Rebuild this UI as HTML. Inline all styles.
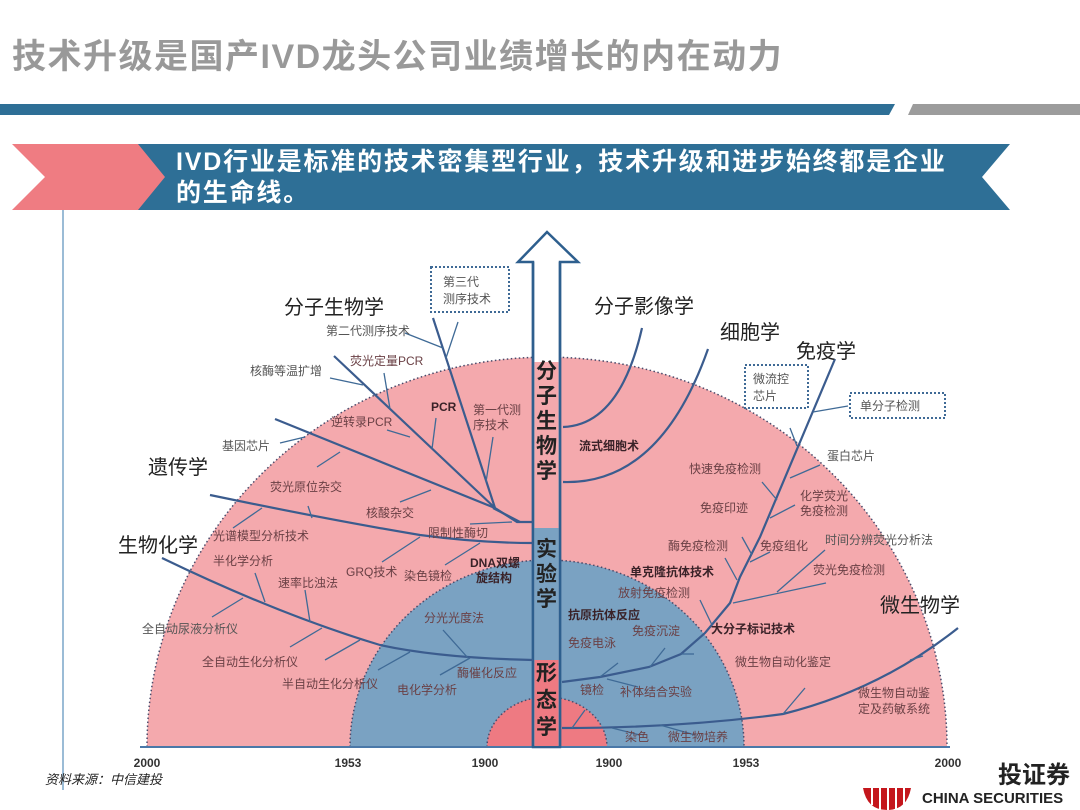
<!DOCTYPE html>
<html><head><meta charset="utf-8"><style>
html,body{margin:0;padding:0;background:#fff;}
body{width:1080px;height:810px;overflow:hidden;position:relative;font-family:"Liberation Sans","Noto Sans CJK SC",sans-serif;}
</style></head><body>
<svg width="1080" height="810" viewBox="0 0 1080 810" xmlns="http://www.w3.org/2000/svg" style="position:absolute;left:0;top:0">
<style>
text{font-family:"Liberation Sans","Noto Sans CJK SC",sans-serif;}
.s{font-size:12px;fill:#6a4045;}
.g{font-size:12px;fill:#555;}
.b{font-size:12px;fill:#3a2228;font-weight:bold;}
.L{font-size:20px;fill:#222;}
.V{font-size:21px;fill:#222;font-weight:bold;}
.ln{stroke:#3b5c8e;stroke-width:2.2;fill:none;}
.tk{stroke:#3f6a96;stroke-width:1.3;fill:none;}
</style>
<text x="12" y="68" style="font-size:34px;font-weight:bold;fill:#999;letter-spacing:1.5px">技术升级是国产IVD龙头公司业绩增长的内在动力</text>
<polygon points="0,104 895,104 889,115 0,115" fill="#2e6f96"/>
<polygon points="913,104 1080,104 1080,115 908,115" fill="#9c9c9c"/>
<polygon points="12,144 165,144 165,210 12,210 45,177" fill="#ef7c82"/>
<polygon points="138,144 1010,144 982,177 1010,210 138,210 165,177" fill="#2e6f96"/>
<text x="176" y="170" style="font-size:25px;font-weight:bold;fill:#fff;letter-spacing:1.8px">IVD行业是标准的技术密集型行业，技术升级和进步始终都是企业</text>
<text x="176" y="201" style="font-size:25px;font-weight:bold;fill:#fff;letter-spacing:1.8px">的生命线。</text>
<line x1="63" y1="210" x2="63" y2="790" stroke="#7aa6c8" stroke-width="1.5"/>
<path d="M147,747 A400,390 0 0 1 947,747 Z" fill="#f4a9ad" stroke="#4a4a6a" stroke-width="1.5" stroke-dasharray="1.5,2.5"/>
<path d="M350,747 A197,187 0 0 1 744,747 Z" fill="#7aa2c2" stroke="#4a4a6a" stroke-width="1.5" stroke-dasharray="1.5,2.5"/>
<path d="M487,747 A60,50 0 0 1 607,747 Z" fill="#ee7a82" stroke="#4a4a6a" stroke-width="1.5" stroke-dasharray="1.5,2.5"/>
<line x1="140" y1="747" x2="950" y2="747" stroke="#4a78a8" stroke-width="2"/>
<polygon points="547,232 578,262 560,262 560,747 533,747 533,262 518,262" fill="#fff" stroke="#2e5f8e" stroke-width="2.5"/>
<rect x="534.5" y="362" width="24" height="166" fill="#f4a9ad"/>
<rect x="534.5" y="528" width="24" height="132" fill="#7aa2c2"/>
<rect x="534.5" y="660" width="24" height="86" fill="#ee7a82"/>
<line x1="533" y1="262" x2="533" y2="747" stroke="#2e5f8e" stroke-width="2.5"/>
<line x1="560" y1="262" x2="560" y2="747" stroke="#2e5f8e" stroke-width="2.5"/>
<text class="V" x="536" y="378">分</text><text class="V" x="536" y="403">子</text><text class="V" x="536" y="428">生</text><text class="V" x="536" y="453">物</text><text class="V" x="536" y="478">学</text>
<text class="V" x="536" y="556">实</text><text class="V" x="536" y="581">验</text><text class="V" x="536" y="606">学</text>
<text class="V" x="536" y="680">形</text><text class="V" x="536" y="707">态</text><text class="V" x="536" y="734">学</text>
<polyline class="ln" points="433,318 495,508 517,522 533,522"/>
<polyline class="ln" points="334,356 495,508"/>
<polyline class="ln" points="275,419 495,508"/>
<path class="ln" d="M210,495 Q330,520 420,535 Q480,543 533,543"/>
<path class="ln" d="M162,558 Q280,615 380,645 Q440,658 533,660"/>
<polyline class="ln" points="493,508 520,522"/>
<g class="tk">
<line x1="446" y1="358" x2="458" y2="322"/><line x1="443" y1="348" x2="405" y2="333"/>
<line x1="390" y1="409" x2="384" y2="373"/><line x1="363" y1="385" x2="330" y2="378"/>
<line x1="410" y1="437" x2="387" y2="430"/><line x1="432" y1="449" x2="436" y2="418"/>
<line x1="486" y1="482" x2="493" y2="437"/><line x1="305" y1="437" x2="280" y2="443"/>
<line x1="340" y1="452" x2="317" y2="467"/><line x1="431" y1="490" x2="400" y2="502"/>
<line x1="512" y1="522" x2="470" y2="524"/><line x1="312" y1="518" x2="308" y2="506"/>
<line x1="262" y1="508" x2="233" y2="528"/><line x1="420" y1="537" x2="382" y2="562"/>
<line x1="480" y1="543" x2="445" y2="565"/><line x1="265" y1="602" x2="255" y2="573"/>
<line x1="243" y1="598" x2="212" y2="617"/><line x1="310" y1="622" x2="305" y2="590"/>
<line x1="322" y1="628" x2="290" y2="647"/><line x1="360" y1="640" x2="325" y2="660"/>
<line x1="410" y1="652" x2="378" y2="670"/><line x1="468" y1="658" x2="443" y2="630"/>
<line x1="470" y1="658" x2="440" y2="675"/>
</g>
<path class="ln" d="M642,328 Q620,425 563,427"/>
<path class="ln" d="M708,349 Q660,485 563,482"/>
<polyline class="ln" points="835,359 760,537 740,577 730,603 705,633 681,654 649,667 600,677 562,682"/>
<path class="ln" d="M958,628 Q880,690 783,714 Q680,728 562,728"/>
<g class="tk">
<line x1="813" y1="412" x2="848" y2="406"/><line x1="797" y1="446" x2="790" y2="428"/>
<line x1="790" y1="478" x2="820" y2="465"/><line x1="777" y1="500" x2="762" y2="482"/>
<line x1="770" y1="518" x2="795" y2="505"/><line x1="752" y1="555" x2="742" y2="537"/>
<line x1="750" y1="562" x2="770" y2="552"/><line x1="737" y1="580" x2="725" y2="558"/>
<line x1="733" y1="603" x2="826" y2="583"/><line x1="777" y1="592" x2="825" y2="550"/>
<line x1="712" y1="625" x2="700" y2="600"/><line x1="681" y1="654" x2="694" y2="654"/>
<line x1="650" y1="667" x2="665" y2="648"/><line x1="600" y1="677" x2="618" y2="663"/>
<line x1="607" y1="679" x2="638" y2="687"/><line x1="923" y1="656" x2="910" y2="660"/>
<line x1="783" y1="714" x2="805" y2="688"/><line x1="660" y1="725" x2="695" y2="735"/>
<line x1="612" y1="728" x2="640" y2="735"/><line x1="572" y1="728" x2="585" y2="710"/>
</g>
<rect x="431" y="267" width="78" height="45" fill="#fff" stroke="#3f6a96" stroke-width="2" stroke-dasharray="2,2"/>
<text class="g" x="443" y="286">第三代</text><text class="g" x="443" y="303">测序技术</text>
<rect x="745" y="365" width="63" height="43" fill="#fff" stroke="#3f6a96" stroke-width="2" stroke-dasharray="2,2"/>
<text class="g" x="753" y="383">微流控</text><text class="g" x="753" y="400">芯片</text>
<rect x="850" y="393" width="95" height="25" fill="#fff" stroke="#3f6a96" stroke-width="2" stroke-dasharray="2,2"/>
<text class="g" x="860" y="410">单分子检测</text>
<text class="L" x="284" y="314">分子生物学</text>
<text class="g" x="326" y="335">第二代测序技术</text>
<text class="s" x="350" y="365">荧光定量PCR</text>
<text class="g" x="250" y="375">核酶等温扩增</text>
<text class="b" x="431" y="411">PCR</text>
<text class="s" x="473" y="414">第一代测</text><text class="s" x="473" y="429">序技术</text>
<text class="s" x="331" y="426">逆转录PCR</text>
<text class="g" x="222" y="450">基因芯片</text>
<text class="L" x="148" y="474">遗传学</text>
<text class="s" x="270" y="491">荧光原位杂交</text>
<text class="s" x="366" y="517">核酸杂交</text>
<text class="s" x="428" y="537">限制性酶切</text>
<text class="s" x="213" y="540">光谱模型分析技术</text>
<text class="L" x="118" y="552">生物化学</text>
<text class="s" x="213" y="565">半化学分析</text>
<text class="b" x="470" y="567">DNA双螺</text><text class="b" x="476" y="582">旋结构</text>
<text class="s" x="346" y="576">GRQ技术</text><text class="s" x="404" y="580">染色镜检</text>
<text class="s" x="278" y="587">速率比浊法</text>
<text class="g" x="142" y="633">全自动尿液分析仪</text>
<text class="s" x="424" y="622">分光光度法</text>
<text class="s" x="202" y="666">全自动生化分析仪</text>
<text class="s" x="282" y="688">半自动生化分析仪</text><text class="s" x="397" y="694">电化学分析</text>
<text class="s" x="457" y="677">酶催化反应</text>
<text class="L" x="594" y="313">分子影像学</text>
<text class="L" x="720" y="339">细胞学</text>
<text class="L" x="796" y="358">免疫学</text>
<text class="b" x="579" y="450">流式细胞术</text>
<text class="g" x="827" y="460">蛋白芯片</text>
<text class="s" x="689" y="473">快速免疫检测</text>
<text class="s" x="800" y="500">化学荧光</text><text class="s" x="800" y="515">免疫检测</text>
<text class="s" x="700" y="512">免疫印迹</text>
<text class="s" x="668" y="550">酶免疫检测</text><text class="s" x="760" y="550">免疫组化</text>
<text class="g" x="825" y="544">时间分辨荧光分析法</text>
<text class="b" x="630" y="576">单克隆抗体技术</text>
<text class="s" x="813" y="574">荧光免疫检测</text>
<text class="s" x="618" y="597">放射免疫检测</text>
<text class="b" x="568" y="619">抗原抗体反应</text>
<text class="b" x="711" y="633">大分子标记技术</text>
<text class="s" x="632" y="635">免疫沉淀</text>
<text class="s" x="568" y="647">免疫电泳</text>
<text class="L" x="880" y="612">微生物学</text>
<text class="s" x="735" y="666">微生物自动化鉴定</text>
<text class="s" x="580" y="694">镜检</text><text class="s" x="620" y="696">补体结合实验</text>
<text class="s" x="858" y="697">微生物自动鉴</text><text class="s" x="858" y="713">定及药敏系统</text>
<text class="s" x="625" y="741">染色</text><text class="s" x="668" y="741">微生物培养</text>
<g style="font-family:'Liberation Serif',serif;font-size:12px;font-weight:bold;fill:#333" text-anchor="middle">
<text x="147" y="767">2000</text><text x="348" y="767">1953</text><text x="485" y="767">1900</text>
<text x="609" y="767">1900</text><text x="746" y="767">1953</text><text x="948" y="767">2000</text>
</g>
<text x="45" y="784" style="font-size:13px;font-style:italic;fill:#222">资料来源：中信建投</text>
<text x="998" y="783" style="font-size:24px;font-weight:bold;fill:#222">投证券</text>
<text x="922" y="803" style="font-size:15px;font-weight:bold;fill:#222">CHINA SECURITIES</text>
<path d="M863,788 L911,788 Q907,810 887,810 Q867,810 863,788 Z" fill="#c4161c"/>
<g stroke="#fff" stroke-width="2"><line x1="872" y1="788" x2="872" y2="805"/><line x1="880" y1="788" x2="880" y2="810"/><line x1="888" y1="788" x2="888" y2="810"/><line x1="896" y1="788" x2="896" y2="810"/><line x1="904" y1="788" x2="904" y2="805"/></g>
</svg>
</body></html>
